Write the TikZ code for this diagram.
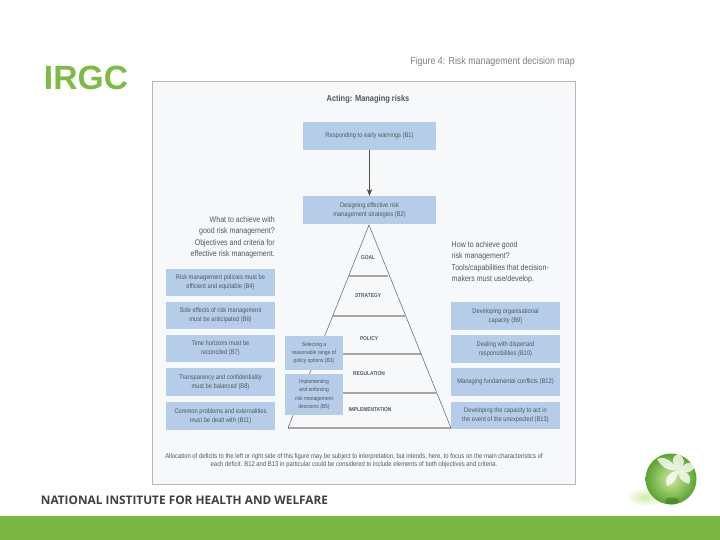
\documentclass[tikz,border=0pt]{standalone}
\usepackage{fontspec}
\setmainfont{Liberation Sans}
\newfontfamily\figfont[FakeStretch=0.86]{Liberation Sans}
\newfontfamily\instfont{Open Sans}
\usetikzlibrary{arrows.meta,calc}
\definecolor{irgc}{HTML}{7DBB45}
\definecolor{band}{HTML}{7BB644}
\definecolor{boxblue}{HTML}{B5CDE8}
\definecolor{panel}{HTML}{F6F8FA}
\definecolor{figtxt}{HTML}{50585F}
\definecolor{ballin}{HTML}{CFEBA5}
\definecolor{ballout}{HTML}{5AA32E}
\tikzset{
  >={Stealth[length=2mm,width=1.6mm]},
  bx/.style={fill=boxblue,minimum width=3.27cm,minimum height=0.82cm,inner sep=0pt,align=center,text=figtxt,font=\figfont\fontsize{5.7}{7.6}\selectfont},
  mid/.style={bx,minimum width=3.99cm,minimum height=0.84cm},
  sm/.style={bx,minimum width=1.74cm,font=\figfont\fontsize{4.9}{6.9}\selectfont},
  lv/.style={text=figtxt,inner sep=0pt,font=\figfont\bfseries\fontsize{4.8}{6}\selectfont},
  nt/.style={text=figtxt,inner sep=0pt,font=\figfont\fontsize{7}{9.3}\selectfont},
  side/.style={draw=figtxt,line width=0.4pt},
  lev/.style={draw=black!35,line width=0.9pt},
  pt/.style={fill=white,opacity=0.78},
}
\begin{document}
\begin{tikzpicture}[x=0.03cm,y=-0.03cm]
\useasboundingbox (0,0) rectangle (720,540);
\fill[band] (0,516) rectangle (720,540);
\node[text=irgc,inner sep=0pt,font=\bfseries\fontsize{28.7}{29}\selectfont] (irgc) at (86,78) {IRGC};
\node[text=black!75,inner sep=0pt,font=\instfont\bfseries\fontsize{10.1}{12}\selectfont] (inst) at (184.5,500) {NATIONAL INSTITUTE FOR HEALTH AND WELFARE};
\node[text=black!50,inner sep=0pt,anchor=east,font=\figfont\fontsize{8.8}{10}\selectfont] (cap) at (575,62) {Figure 4: Risk management decision map};
\draw[draw=black!28,fill=panel,line width=0.7pt] (152,81) rectangle (575,484);
\node[text=figtxt,inner sep=0pt,font=\figfont\bfseries\fontsize{7.4}{9}\selectfont] (title) at (368,99.5) {Acting: Managing risks};
% pyramid
\coordinate (top) at (369,225); \coordinate (bl) at (288,428); \coordinate (br) at (451,428);
\coordinate (l1) at (349,276); \coordinate (r1) at (388,276);
\coordinate (l2) at (333,316); \coordinate (r2) at (405,316);
\coordinate (l3) at (317,354); \coordinate (r3) at (421,354);
\coordinate (l4) at (302,393); \coordinate (r4) at (436,393);
\draw[lev] (l1)--(r1); \draw[lev] (l2)--(r2); \draw[lev] (l3)--(r3); \draw[lev] (l4)--(r4); \draw[lev] (bl)--(br);
\draw[side] (bl)--(top)--(br);
\node[lv] (goal) at (368,258) {GOAL}; \node[lv] (strat) at (368,296) {STRATEGY};
\node[lv] (pol) at (369,339) {POLICY}; \node[lv] (reg) at (369,374) {REGULATION};
\node[lv] (impl) at (370,410) {IMPLEMENTATION};
% centre
\node[mid] (b1) at (369.5,136) {Responding to early warnings (B1)};
\node[mid] (b2) at (369.5,210) {Designing effective risk\\management strategies (B2)};
\draw[->,draw=black!70,line width=0.5pt] (b1)--(b2);
\node[sm,minimum height=1.02cm] (b3) at (314,353) {Selecting a\\reasonable range of\\policy options (B3)};
\node[sm,minimum height=1.23cm] (b5) at (314,394.5) {Implementing\\and enforcing\\risk management\\decisions (B5)};
% left column
\node[bx] (b4) at (220.5,282.5) {Risk management policies must be\\efficient and equitable (B4)};
\node[bx] (b6) at (220.5,315.5) {Side effects of risk management\\must be anticipated (B6)};
\node[bx] (b7) at (220.5,348.5) {Time horizons must be\\reconciled (B7)};
\node[bx] (b8) at (220.5,382) {Transparency and confidentiality\\must be balanced (B8)};
\node[bx] (b11) at (220.5,416) {Common problems and externalities\\must be dealt with (B11)};
% right column
\node[bx] (b9) at (505.5,316) {Developing organisational\\capacity (B9)};
\node[bx] (b10) at (505.5,349) {Dealing with dispersed\\responsibilities (B10)};
\node[bx] (b12) at (505.5,382) {Managing fundamental conflicts (B12)};
\node[bx] (b13) at (505.5,415.5) {Developing the capacity to act in\\the event of the unexpected (B13)};
% notes
\node[nt,anchor=north east,align=right] (lq) at (275,216.5) {What to achieve with\\good risk management?};
\node[nt,anchor=north east,align=right] (lc) at (275,239.5) {Objectives and criteria for\\effective risk management.};
\node[nt,anchor=north west,align=left] (rq) at (451.5,241) {How to achieve good\\risk management?};
\node[nt,anchor=north west,align=left] (rc) at (451.5,264.5) {Tools/capabilities that decision-\\makers must use/develop.};
\node[inner sep=0pt,align=center,text=figtxt,font=\figfont\fontsize{5.85}{6.9}\selectfont] (foot) at (354,461) {Allocation of deficits to the left or right side of this figure may be subject to interpretation, but intends, here, to focus on the main characteristics of\\each deficit. B12 and B13 in particular could be considered to include elements of both objectives and criteria.};
% globe
\shade[inner color=ballin,outer color=white] (645,497) ellipse (19 and 9.5);
\shade[inner color=ballin,outer color=ballout] (671,479) circle (25.5);
\fill[ballout!70!black,opacity=0.55] (672,501) ellipse (7 and 3.5);
\fill[pt] (678,470) .. controls (670,458) and (662,456) .. (657,459) .. controls (662,468) and (670,472) .. (678,470);
\fill[pt] (678,470) .. controls (670,462) and (672,456) .. (678,454) .. controls (686,458) and (686,464) .. (678,470);
\fill[pt] (678,470) .. controls (686,462) and (692,460) .. (695,466) .. controls (692,474) and (684,474) .. (678,470);
\fill[pt] (678,470) .. controls (690,472) and (692,478) .. (689,484) .. controls (682,482) and (678,478) .. (678,470);
\fill[pt] (678,470) .. controls (668,472) and (664,480) .. (667,486) .. controls (674,484) and (678,478) .. (678,470);
\end{tikzpicture}
\end{document}
